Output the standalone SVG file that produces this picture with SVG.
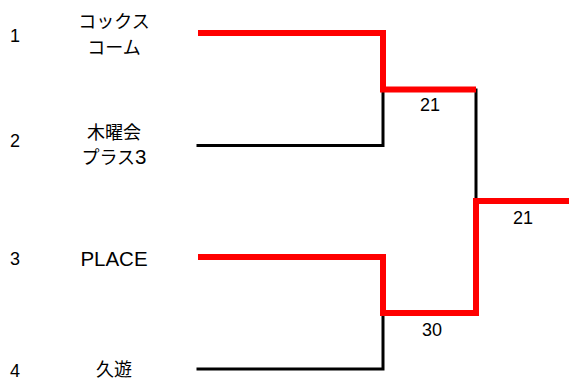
<svg xmlns="http://www.w3.org/2000/svg" width="569" height="380" viewBox="0 0 569 380">
<style>
text{font-family:"Liberation Sans","Noto Sans CJK JP",sans-serif;fill:#000}
.seed{font-size:18px}
.name{font-size:18px;text-anchor:middle}
.latin{font-size:20.5px}
.score{font-size:18px;text-anchor:middle}
.win{fill:none;stroke:#ff0000;stroke-width:6;stroke-linejoin:miter;stroke-linecap:butt}
.lose{fill:none;stroke:#000;stroke-width:3;stroke-linejoin:miter;stroke-linecap:square}
</style>
<rect width="569" height="380" fill="#fff"/>
<g id="connectors">
<polyline class="lose" points="198,145.5 383,145.5 383,92"/>
<polyline class="lose" points="198,369 383,369 383,315"/>
<line class="lose" x1="476" y1="90" x2="476" y2="200"/>
<polyline class="win" points="198,33 383,33 383,89.5 476,89.5"/>
<polyline class="win" points="198,257 383,257 383,313 476,313 476,201 569,201"/>
</g>
<g id="team1">
<text class="seed" x="10" y="42">1</text>
<text class="name" x="114" y="28">コックス</text>
<text class="name" x="114" y="54">コーム</text>
</g>
<g id="team2">
<text class="seed" x="10" y="147">2</text>
<text class="name" x="114" y="139">木曜会</text>
<text class="name" x="114" y="164">プラス<tspan class="latin">3</tspan></text>
</g>
<g id="team3">
<text class="seed" x="10" y="265">3</text>
<text class="name latin" x="114" y="266">PLACE</text>
</g>
<g id="team4">
<text class="seed" x="10" y="377">4</text>
<text class="name" x="114" y="376">久遊</text>
</g>
<g id="score-semi1"><text class="score" x="430" y="111">21</text></g>
<g id="score-semi2"><text class="score" x="432" y="336">30</text></g>
<g id="score-final"><text class="score" x="523" y="224">21</text></g>
</svg>
